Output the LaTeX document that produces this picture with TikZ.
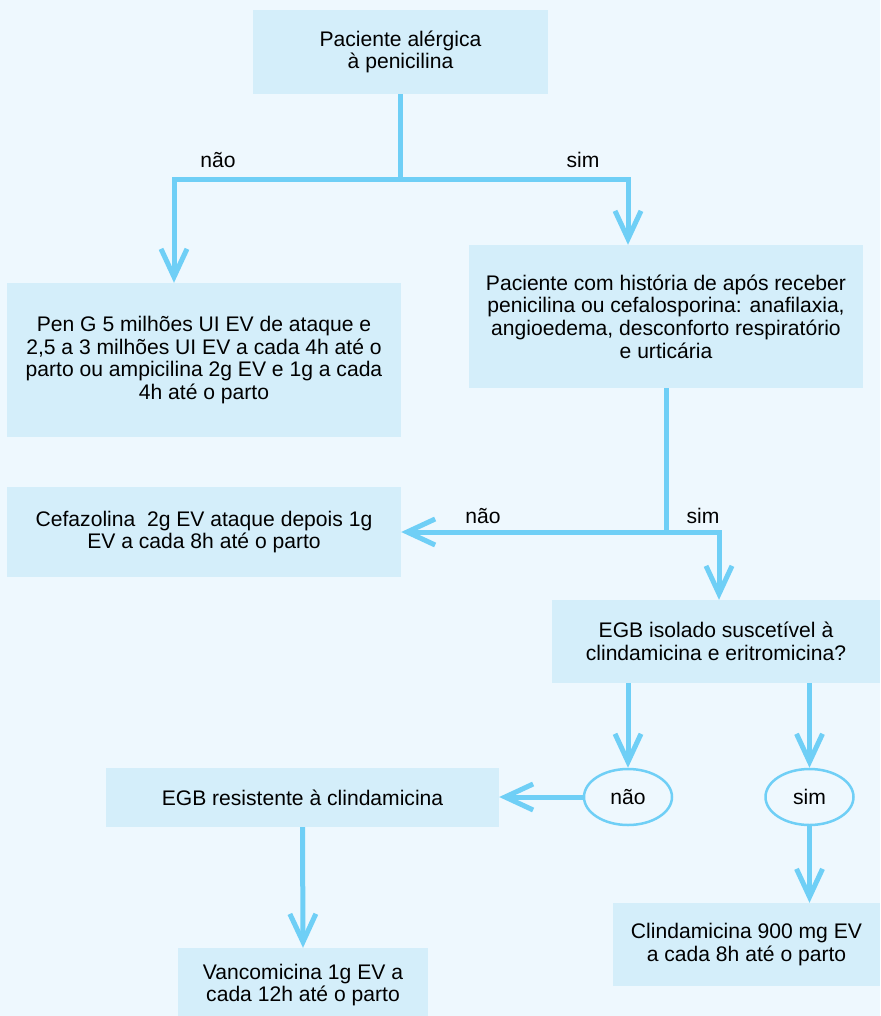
\documentclass[tikz,border=0pt]{standalone}
\usepackage{fontspec}
\setmainfont{Liberation Sans}
\usetikzlibrary{arrows.meta,shapes.geometric}

\definecolor{bgblue}{HTML}{EEF8FE}
\definecolor{boxblue}{HTML}{D4EEFA}
\definecolor{lineblue}{HTML}{6FCFF6}

\tikzset{
  box/.style={fill=boxblue, inner sep=0pt, align=center,
    font=\fontsize{21.1}{22.7}\selectfont},
  choice/.style={ellipse, draw=lineblue, line width=2.5pt, fill=bgblue,
    inner sep=0pt, minimum width=88pt, minimum height=56pt,
    font=\fontsize{21.1}{22.7}\selectfont},
  tag/.style={font=\fontsize{21.1}{22.7}\selectfont},
  link/.style={draw=lineblue, line width=5pt},
  arrow/.style={link, -{Straight Barb[length=28pt,width=26pt]}}
}

\begin{document}
\begin{tikzpicture}[x=1pt,y=-1pt]
  \fill[bgblue] (0,0) rectangle (880,1016);
  \useasboundingbox (0,0) rectangle (880,1016);

  % boxes
  \node[box, minimum width=295pt, minimum height=84pt] (top) at (400.5,52)
    {Paciente alérgica\\à penicilina};
  \node[box, minimum width=394pt, minimum height=154pt] (pen) at (204,360)
    {Pen G 5 milhões UI EV de ataque e\\2,5 a 3 milhões UI EV a cada 4h até o\\parto ou ampicilina 2g EV e 1g a cada\\4h até o parto};
  \node[box, minimum width=394pt, minimum height=143pt] (hist) at (666,316.5)
    {Paciente com história de após receber\\penicilina ou cefalosporina: anafilaxia,\\angioedema, desconforto respiratório\\e urticária};
  \node[box, minimum width=394pt, minimum height=90pt] (cefa) at (204,532)
    {Cefazolina\ \ 2g EV ataque depois 1g\\EV a cada 8h até o parto};
  \node[box, minimum width=328pt, minimum height=83pt] (egbs) at (716,641.5)
    {EGB isolado suscetível à\\clindamicina e eritromicina?};
  \node[box, minimum width=393pt, minimum height=59pt] (egbr) at (302.5,797.5)
    {EGB resistente à clindamicina};
  \node[box, minimum width=250pt, minimum height=74pt] (vanc) at (303,985)
    {Vancomicina 1g EV a\\cada 12h até o parto};
  \node[box, minimum width=267pt, minimum height=83pt] (clin) at (746.5,944.5)
    {Clindamicina 900 mg EV\\a cada 8h até o parto};

  % choices
  \node[choice] (no) at (628,797) {não};
  \node[choice] (yes) at (809.5,797) {sim};

  % labels
  \node[tag] (no1) at (218,160) {não};
  \node[tag] (yes1) at (583,160) {sim};
  \node[tag] (no2) at (483,516) {não};
  \node[tag] (yes2) at (703,516) {sim};

  % connectors
  \coordinate (split1) at (400.5,180);
  \coordinate (split2) at (666,532);
  \draw[link] (top.south) -- (split1);
  \draw[arrow] (split1) -| ([xshift=-30pt]pen.north);
  \draw[arrow] (split1) -| ([xshift=-38pt]hist.north);
  \draw[link] (hist.south) -- (split2);
  \draw[arrow] (split2) -- (cefa.east);
  \draw[arrow] (split2) -| ([xshift=3pt]egbs.north);
  \draw[arrow] (egbs.south -| no.north) -- (no.north);
  \draw[arrow] (egbs.south -| yes.north) -- (yes.north);
  \draw[arrow] (no.west) -- (no.west -| egbr.east);
  \draw[arrow] (yes.south) -- (yes.south |- clin.north);
  \draw[arrow] (egbr.south) -- (vanc.north);
\end{tikzpicture}
\end{document}
